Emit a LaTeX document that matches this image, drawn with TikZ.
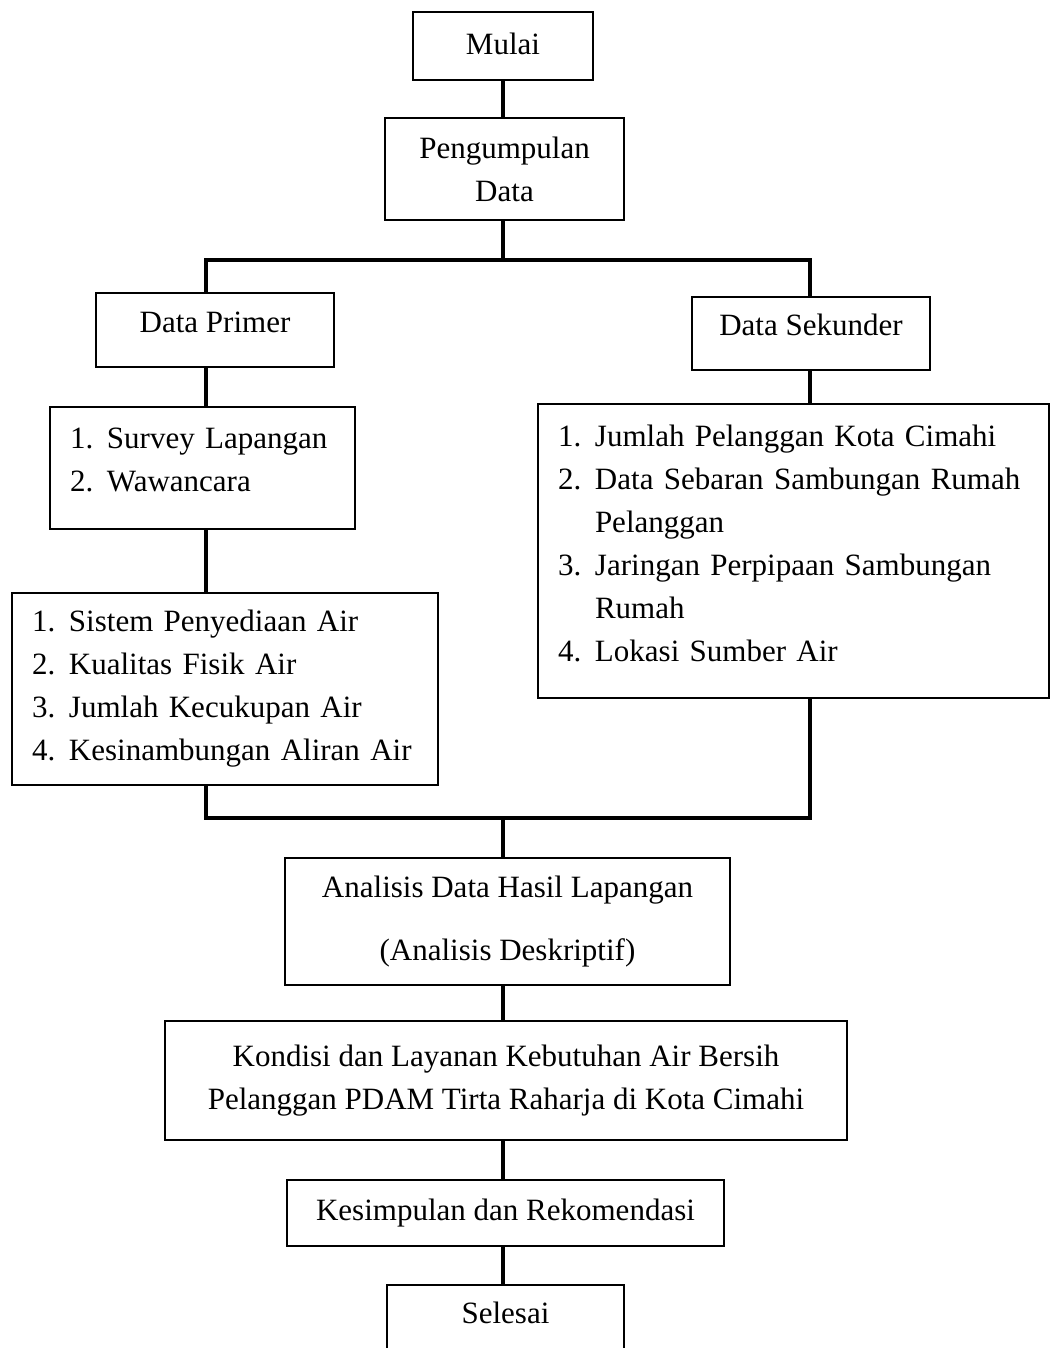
\documentclass[tikz,border=0pt]{standalone}
\usepackage{fontspec}
\setmainfont{Liberation Serif}
\usetikzlibrary{positioning}

\newcommand{\nomor}[2]{\makebox[37pt][l]{#1}#2}
\newcommand{\lanjut}[1]{\hspace*{37pt}#1}
\newcommand{\turun}[1]{\rule[-#1]{0pt}{#1}}

\begin{document}
\begin{tikzpicture}[x=1pt,y=-1pt,line join=miter,
	kotak/.style={draw,line width=1.6pt,inner sep=0pt,align=center,
		font=\fontsize{31}{43}\selectfont},
	daftar/.style={kotak,align=left,inner xsep=20pt},
	garis/.style={line width=3.6pt}]
	
	\useasboundingbox (0,0) rectangle (1051,1348);
	
	% ---- kolom garis penghubung ----
	\coordinate (tengah) at (503,0);
	\coordinate (kiri) at (206,0);
	\coordinate (kanan) at (810,0);
	\coordinate (cabang) at (503,260);
	\coordinate (gabung) at (503,818);
	
	% ---- kotak atas ----
	\node[kotak,minimum width=180,minimum height=68] (mulai) at (503,46) {\raisebox{4pt}{Mulai}};
	\node[kotak,minimum width=239,minimum height=102] (kumpul) at (504.5,169) {Pengumpulan\\Data};
	
	% ---- dua cabang data ----
	\node[kotak,minimum width=238,minimum height=74] (primer) at (215,330) {\raisebox{16pt}{Data Primer}};
	\node[kotak,minimum width=238,minimum height=73] (sekunder) at (811,333.5) {\raisebox{18pt}{Data Sekunder}};
	
	\node[daftar,text width=265,minimum height=122] (listprim) at (202.5,468)
	{\nomor{1.}{Survey Lapangan}\\\nomor{2.}{Wawancara}\turun{16pt}};
	\node[daftar,text width=471,minimum height=294] (listsek) at (793.5,551)
	{\nomor{1.}{Jumlah Pelanggan Kota Cimahi}\\
		\nomor{2.}{Data Sebaran Sambungan Rumah}\\
		\lanjut{Pelanggan}\\
		\nomor{3.}{Jaringan Perpipaan Sambungan}\\
		\lanjut{Rumah}\\
		\nomor{4.}{Lokasi Sumber Air}\turun{15pt}};
	\node[daftar,text width=386,minimum height=192] (kriteria) at (225,689)
	{\nomor{1.}{Sistem Penyediaan Air}\\
		\nomor{2.}{Kualitas Fisik Air}\\
		\nomor{3.}{Jumlah Kecukupan Air}\\
		\nomor{4.}{Kesinambungan Aliran Air}};
	
	% ---- kotak bawah ----
	\node[kotak,minimum width=445,minimum height=127] (analisis) at (507.5,921.5)
	{Analisis Data Hasil Lapangan\\[20pt](Analisis Deskriptif)};
	\node[kotak,minimum width=682,minimum height=119] (kondisi) at (506,1080.5)
	{Kondisi dan Layanan Kebutuhan Air Bersih\\Pelanggan PDAM Tirta Raharja di Kota Cimahi};
	\node[kotak,minimum width=437,minimum height=66] (simpul) at (505.5,1213) {\raisebox{4pt}{Kesimpulan dan Rekomendasi}};
	\node[kotak,minimum width=237,minimum height=70] (selesai) at (505.5,1320) {\raisebox{14pt}{Selesai}};
	
	% ---- garis penghubung ----
	\draw[garis] (mulai.south -| tengah) -- (kumpul.north -| tengah);
	\draw[garis] (kumpul.south -| tengah) -- (cabang);
	\draw[garis] (primer.north -| kiri) |- (cabang) -| (sekunder.north -| kanan);
	\draw[garis] (primer.south -| kiri) -- (listprim.north -| kiri);
	\draw[garis] (listprim.south -| kiri) -- (kriteria.north -| kiri);
	\draw[garis] (sekunder.south -| kanan) -- (listsek.north -| kanan);
	\draw[garis] (kriteria.south -| kiri) |- (gabung) -| (listsek.south -| kanan);
	\draw[garis] (gabung) -- (analisis.north -| tengah);
	\draw[garis] (analisis.south -| tengah) -- (kondisi.north -| tengah);
	\draw[garis] (kondisi.south -| tengah) -- (simpul.north -| tengah);
	\draw[garis] (simpul.south -| tengah) -- (selesai.north -| tengah);
	
\end{tikzpicture}
\end{document}
